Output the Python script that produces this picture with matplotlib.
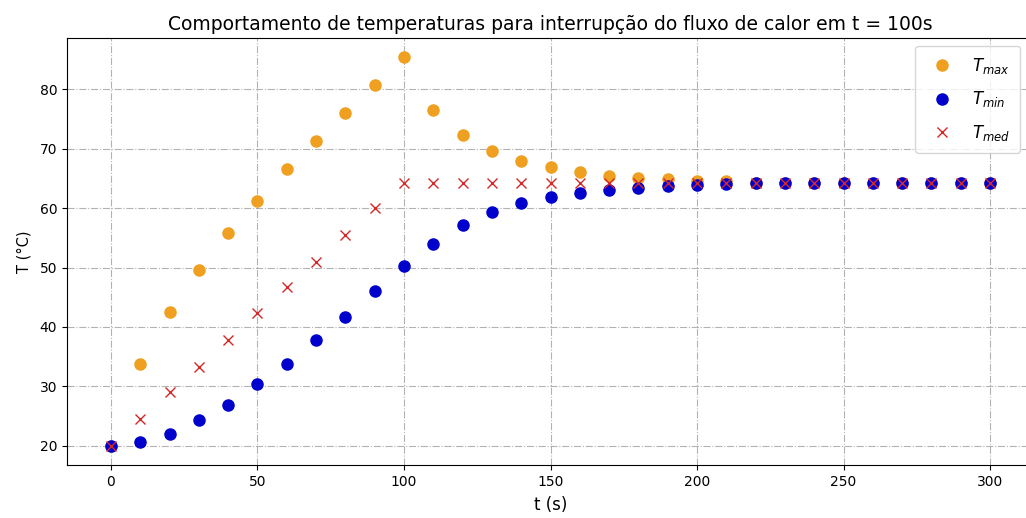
import numpy as np
import matplotlib
matplotlib.use('Agg')
import matplotlib.pyplot as plt

# time steps (s)
t = np.arange(0, 301, 10)

# temperatures (°C) - heat flux switched off at t = 100s
T_max = [20.0, 33.8, 42.5, 49.6, 55.8, 61.2, 66.6, 71.4, 76.1, 80.8, 85.4,
         76.5, 72.3, 69.7, 67.9, 66.9, 66.1, 65.5, 65.0, 64.9, 64.6,
         64.5, 64.3, 64.3, 64.3, 64.3, 64.3, 64.3, 64.3, 64.3, 64.3]
T_min = [20.0, 20.6, 21.9, 24.3, 26.9, 30.4, 33.8, 37.8, 41.7, 46.0, 50.2,
         53.9, 57.1, 59.3, 60.8, 61.8, 62.6, 63.1, 63.4, 63.7, 63.9,
         64.0, 64.2, 64.2, 64.2, 64.2, 64.2, 64.2, 64.2, 64.2, 64.2]
T_med = [20.0, 24.5, 29.0, 33.3, 37.8, 42.3, 46.8, 51.0, 55.5, 60.0, 64.2,
         64.2, 64.2, 64.2, 64.2, 64.2, 64.2, 64.2, 64.2, 64.2, 64.2,
         64.2, 64.2, 64.2, 64.2, 64.2, 64.2, 64.2, 64.2, 64.2, 64.2]

fig = plt.figure(figsize=(10.26, 5.18), dpi=100)
ax = fig.add_axes([67/1026, 53/518, 967/1026, 427/518])

ax.plot(t, T_max, 'o', color='#f0a020', markersize=8, label='$T_{max}$')
ax.plot(t, T_min, 'o', color='mediumblue', markersize=8, label='$T_{min}$')
ax.plot(t, T_med, 'x', color='tab:red', markersize=7, label='$T_{med}$')

ax.grid(True, linestyle='-.', color='gray', alpha=0.6)
ax.set_xlabel('t (s)', fontsize=12, labelpad=5)
ax.set_ylabel('T (°C)', fontsize=10.5, labelpad=6)
ax.set_title('Comportamento de temperaturas para interrupção do fluxo de calor em t = 100s',
             fontsize=13.5)
# keep the legend inside the visible part of the axes
ax.legend(fontsize=12, borderpad=0.6, labelspacing=0.8, loc='upper right',
          bbox_to_anchor=(0.9855, 0.981), borderaxespad=0)

plt.savefig('out.png', dpi=100)
